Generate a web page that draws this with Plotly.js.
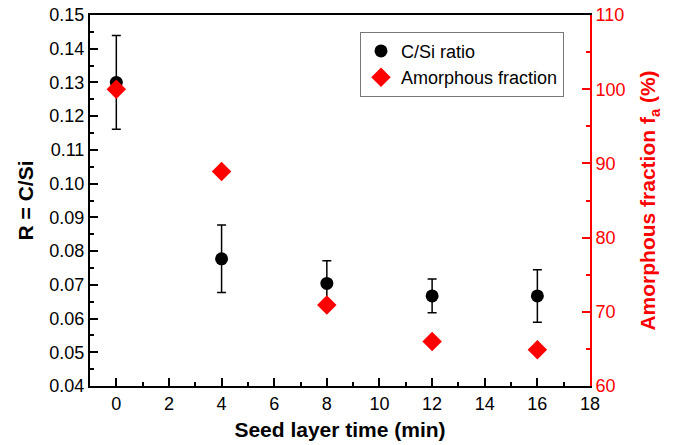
<!DOCTYPE html>
<html>
<head>
<meta charset="utf-8">
<script src="https://cdn.plot.ly/plotly-3.0.1.min.js"></script>
<style>html,body{margin:0;padding:0;background:#fff;}#chart{width:675px;height:445px;}</style>
</head>
<body>
<div id="chart"></div>
<script>
const seedTime = [0, 4, 8, 12, 16];
const csiRatio = [0.1300, 0.0777, 0.0704, 0.0667, 0.0667];
const csiError = [0.0139, 0.0100, 0.0067, 0.0050, 0.0078];
const amorphousFraction = [100, 88.9, 70.9, 66.0, 64.9];
const xTicks = [0, 2, 4, 6, 8, 10, 12, 14, 16, 18];

const font = "Liberation Sans, Arial, sans-serif";

const traces = [
  {
    x: seedTime, y: csiRatio, name: 'C/Si ratio', type: 'scatter', mode: 'markers',
    marker: {symbol: 'circle', size: 13, color: '#000'},
    error_y: {type: 'data', array: csiError, visible: true, color: '#000', thickness: 1.5, width: 4.5},
    xaxis: 'x', yaxis: 'y'
  },
  {
    x: seedTime, y: amorphousFraction, name: 'Amorphous fraction', type: 'scatter', mode: 'markers',
    marker: {symbol: 'diamond', size: 15, color: '#ff0000'},
    xaxis: 'x', yaxis: 'y2'
  }
];

const layout = {
  width: 675, height: 445,
  margin: {l: 90, r: 85, t: 15, b: 59},
  paper_bgcolor: '#fff', plot_bgcolor: '#fff',
  font: {family: font, size: 18, color: '#000'},
  showlegend: true,
  legend: {
    x: 0.54, y: 0.955, xanchor: 'left', yanchor: 'top',
    bgcolor: '#fff', bordercolor: '#777', borderwidth: 1,
    font: {family: font, size: 18, color: '#000'},
    tracegroupgap: 2, itemwidth: 30
  },
  xaxis: {
    range: [-1, 18], tickvals: xTicks, ticktext: xTicks.map(String),
    showgrid: false, zeroline: false,
    showline: true, linecolor: '#000', linewidth: 2, mirror: true,
    ticks: 'inside', ticklen: 8, tickwidth: 2, tickcolor: '#000',
    minor: {dtick: 1, ticks: 'inside', ticklen: 4, tickwidth: 2, tickcolor: '#000', showgrid: false},
    tickfont: {family: font, size: 18, color: '#000'},
    title: {text: 'Seed layer time (min)', font: {family: font, size: 21, color: '#000', weight: 'bold'}, standoff: 10}
  },
  yaxis: {
    range: [0.04, 0.15], dtick: 0.01, tick0: 0.04, tickformat: '.2f',
    showgrid: false, zeroline: false,
    showline: true, linecolor: '#000', linewidth: 2, mirror: false,
    ticks: 'inside', ticklen: 8, tickwidth: 2, tickcolor: '#000',
    minor: {dtick: 0.005, ticks: 'inside', ticklen: 4, tickwidth: 2, tickcolor: '#000', showgrid: false},
    tickfont: {family: font, size: 18, color: '#000'},
    title: {text: 'R = C/Si', font: {family: font, size: 21, color: '#000', weight: 'bold'}, standoff: 10}
  },
  yaxis2: {
    overlaying: 'y', side: 'right', anchor: 'x',
    range: [60, 110], dtick: 10, tick0: 60,
    showgrid: false, zeroline: false,
    showline: true, linecolor: '#ff0000', linewidth: 2,
    ticks: 'inside', ticklen: 8, tickwidth: 2, tickcolor: '#ff0000',
    minor: {dtick: 5, ticks: 'inside', ticklen: 4, tickwidth: 2, tickcolor: '#ff0000', showgrid: false},
    tickfont: {family: font, size: 18, color: '#ff0000'},
    title: {text: 'Amorphous fraction f<sub>a</sub> (%)', font: {family: font, size: 21, color: '#ff0000', weight: 'bold'}, standoff: 16}
  }
};

Plotly.newPlot('chart', traces, layout, {displayModeBar: false, staticPlot: true});
</script>
</body>
</html>
